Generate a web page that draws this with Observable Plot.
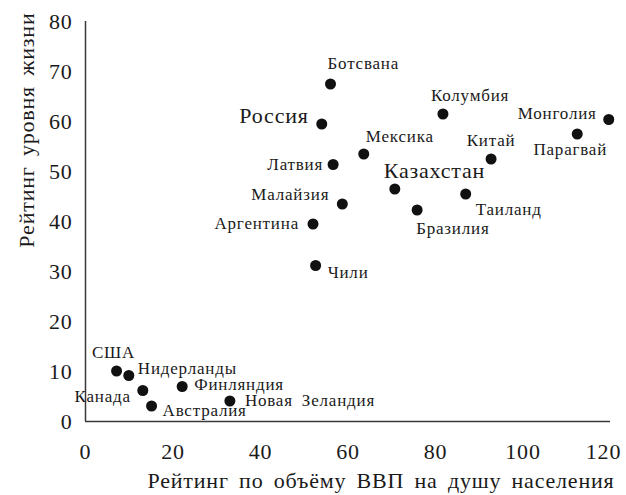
<!DOCTYPE html>
<html>
<head>
<meta charset="utf-8">
<script src="https://cdn.jsdelivr.net/npm/d3@7"></script>
<script src="https://cdn.jsdelivr.net/npm/@observablehq/plot@0.6"></script>
<style>
  html, body { margin: 0; padding: 0; background: #fff; }
  #chart svg { display: block; }
  #chart svg text { font-family: "Liberation Serif", "Times New Roman", serif; letter-spacing: 0.8px; word-spacing: 4px; }
</style>
</head>
<body>
<div id="chart"></div>
<script>
// ---- data ----
const countries = ["Ботсвана","Россия","Колумбия","Монголия","Парагвай","Мексика","Латвия","Китай","Казахстан","Малайзия","Таиланд","Бразилия","Аргентина","Чили","США","Нидерланды","Канада","Австралия","Финляндия","Новая Зеландия"];
const gdpRank  = [56, 54, 81.7, 119.6, 112.4, 63.6, 56.6, 92.7, 70.7, 58.7, 86.9, 75.8, 52, 52.6, 7.1, 9.9, 13.1, 15.1, 22.1, 33];
const lifeRank = [67.5, 59.5, 61.5, 60.4, 57.5, 53.5, 51.4, 52.5, 46.5, 43.5, 45.5, 42.3, 39.5, 31.2, 10.1, 9.2, 6.2, 3.1, 7, 4.1];
const xTicks = [0, 20, 40, 60, 80, 100, 120];
const yTicks = [0, 10, 20, 30, 40, 50, 60, 70, 80];
const xLabel = "Рейтинг по объёму ВВП на душу населения";
const yLabel = "Рейтинг уровня жизни";

// label placement (style only)
const placement = {
  "Ботсвана":       {a: "start",  dx: -3,  dy: -20},
  "Россия":         {a: "end",    dx: -13, dy: -8, big: true},
  "Колумбия":       {a: "start",  dx: -12, dy: -18},
  "Монголия":       {a: "end",    dx: -12, dy: -6},
  "Парагвай":       {a: "middle", dx: -7,  dy: 16},
  "Мексика":        {a: "start",  dx: 2,   dy: -17},
  "Латвия":         {a: "end",    dx: -10, dy: 0},
  "Китай":          {a: "middle", dx: 0,   dy: -18},
  "Казахстан":      {a: "start",  dx: -11, dy: -18, big: true},
  "Малайзия":       {a: "end",    dx: -13, dy: -9},
  "Таиланд":        {a: "start",  dx: 10,  dy: 16},
  "Бразилия":       {a: "start",  dx: -1,  dy: 19},
  "Аргентина":      {a: "end",    dx: -14, dy: 0},
  "Чили":           {a: "start",  dx: 12,  dy: 7},
  "США":            {a: "middle", dx: -3,  dy: -18},
  "Нидерланды":     {a: "start",  dx: 9,   dy: -7},
  "Канада":         {a: "end",    dx: -12, dy: 6},
  "Австралия":      {a: "start",  dx: 11,  dy: 5},
  "Финляндия":      {a: "start",  dx: 12,  dy: -2},
  "Новая Зеландия": {a: "start",  dx: 15,  dy: 0}
};

const data = countries.map((c, i) => ({country: c, x: gdpRank[i], y: lifeRank[i]}));

const labelMarks = data.map(d => {
  const p = placement[d.country];
  return Plot.text([d], {
    x: "x", y: "y", text: "country",
    textAnchor: p.a, dx: p.dx, dy: p.dy,
    fontSize: p.big ? 22 : 17, fill: "#1a1a1a"
  });
});

const lastTick = xTicks[xTicks.length - 1];

const chart = Plot.plot({
  width: 626,
  height: 495,
  marginLeft: 85,
  marginRight: 16,
  marginTop: 21,
  marginBottom: 74,
  style: "background: #fff; color: #1a1a1a;",
  x: {domain: [0, 120]},
  y: {domain: [0, 80]},
  marks: [
    Plot.axisX({ticks: xTicks.slice(0, -1), tickSize: 0, tickPadding: 22, fontSize: 22, fill: "#1a1a1a", label: null}),
    Plot.axisX({ticks: [lastTick], tickSize: 0, tickPadding: 22, fontSize: 22, fill: "#1a1a1a", label: null, dx: -7}),
    Plot.axisY({ticks: yTicks, tickSize: 0, tickPadding: 13, fontSize: 22, fill: "#1a1a1a", label: null}),
    Plot.ruleX([0], {y1: 0, y2: 80, stroke: "#3a3a3a", strokeWidth: 1.5}),
    Plot.ruleY([0], {x1: 0, x2: 120, stroke: "#3a3a3a", strokeWidth: 1.5}),
    Plot.dot(data, {x: "x", y: "y", r: 5.5, fill: "#111", stroke: "none"}),
    ...labelMarks,
    Plot.text([xLabel], {text: d => d, frameAnchor: "bottom-right", textAnchor: "end", dx: 4, dy: 66, fontSize: 22, fill: "#1a1a1a"}),
    Plot.text([yLabel], {text: d => d, frameAnchor: "top-left", textAnchor: "end", rotate: -90, dx: -67, dy: -9, fontSize: 22, fill: "#1a1a1a"})
  ]
});

document.getElementById("chart").appendChild(chart);
</script>
</body>
</html>
